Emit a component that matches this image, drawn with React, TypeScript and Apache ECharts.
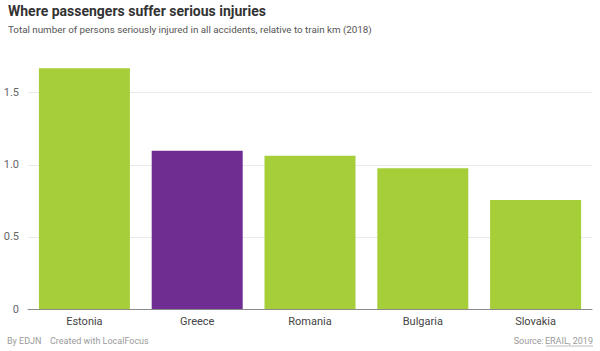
import React, { useEffect, useRef } from "react";
import * as echarts from "echarts";

const categories = ["Estonia", "Greece", "Romania", "Bulgaria", "Slovakia"];
const values = [1.67, 1.097, 1.062, 0.976, 0.756];
const highlight = "Greece";
const yTicks = [0, 0.5, 1.0, 1.5, 2.0];

const FONT = "Roboto, 'Noto Sans', sans-serif";

export default function App() {
  const ref = useRef<HTMLDivElement>(null);
  useEffect(() => {
    const chart = echarts.init(ref.current!, null, { renderer: "svg" });
    chart.setOption({
      animation: false,
      backgroundColor: "#ffffff",
      grid: { left: 28, right: 8, top: 20.6, bottom: 42, containLabel: false },
      xAxis: {
        type: "category",
        data: categories,
        axisLine: { lineStyle: { color: "#8a8a8a", width: 1 } },
        axisTick: { show: false },
        axisLabel: { fontFamily: FONT, fontSize: 11, color: "#444444", margin: 7 },
      },
      yAxis: {
        type: "value",
        min: 0,
        max: 2,
        interval: 0.5,
        axisLine: { show: false },
        axisTick: { show: false },
        axisLabel: {
          fontFamily: FONT,
          fontSize: 11,
          color: "#666666",
          margin: 9,
          formatter: (v: number) => (v === 0 ? "0" : v >= 2 ? "" : v.toFixed(1)),
        },
        splitLine: {
          lineStyle: {
            color: yTicks.map((t) => (t >= 2 ? "rgba(0,0,0,0)" : "#e9e9e9")),
            width: 1,
          },
        },
      },
      series: [
        {
          type: "bar",
          barWidth: 91,
          data: values.map((v, i) => ({
            value: v,
            itemStyle: { color: categories[i] === highlight ? "#6f2c91" : "#a6ce39" },
          })),
        },
      ],
      graphic: [
        {
          type: "text",
          x: 8,
          y: 11,
          style: {
            text: "Where passengers suffer serious injuries",
            fontFamily: FONT,
            fontSize: 14,
            fontWeight: "bold",
            fill: "#333333",
            verticalAlign: "middle",
          },
        },
        {
          type: "text",
          x: 8,
          y: 29.5,
          style: {
            text: "Total number of persons seriously injured in all accidents, relative to train km (2018)",
            fontFamily: FONT,
            fontSize: 9.8,
            fill: "#555555",
            verticalAlign: "middle",
          },
        },
        {
          type: "text",
          x: 7,
          y: 340.5,
          style: { text: "By EDJN", fontFamily: FONT, fontSize: 9, fill: "#9a9a9a", verticalAlign: "middle" },
        },
        {
          type: "text",
          x: 50,
          y: 340.5,
          style: {
            text: "Created with LocalFocus",
            fontFamily: FONT,
            fontSize: 9,
            fill: "#9a9a9a",
            verticalAlign: "middle",
          },
        },
        {
          type: "text",
          x: 593,
          y: 340.5,
          style: {
            text: "ERAIL, 2019",
            fontFamily: FONT,
            fontSize: 9,
            fill: "#9a9a9a",
            align: "right",
            verticalAlign: "middle",
          },
        },
        {
          type: "text",
          x: 546,
          y: 340.5,
          style: {
            text: "Source: ",
            fontFamily: FONT,
            fontSize: 9,
            fill: "#9a9a9a",
            align: "right",
            verticalAlign: "middle",
          },
        },
        {
          type: "line",
          shape: { x1: 546, y1: 346, x2: 593, y2: 346 },
          style: { stroke: "#a0a0a0", lineWidth: 0.7 },
        },
      ],
    });
    return () => chart.dispose();
  }, []);
  return <div ref={ref} style={{ width: 600, height: 351, position: "absolute", left: 0, top: 0 }} />;
}
